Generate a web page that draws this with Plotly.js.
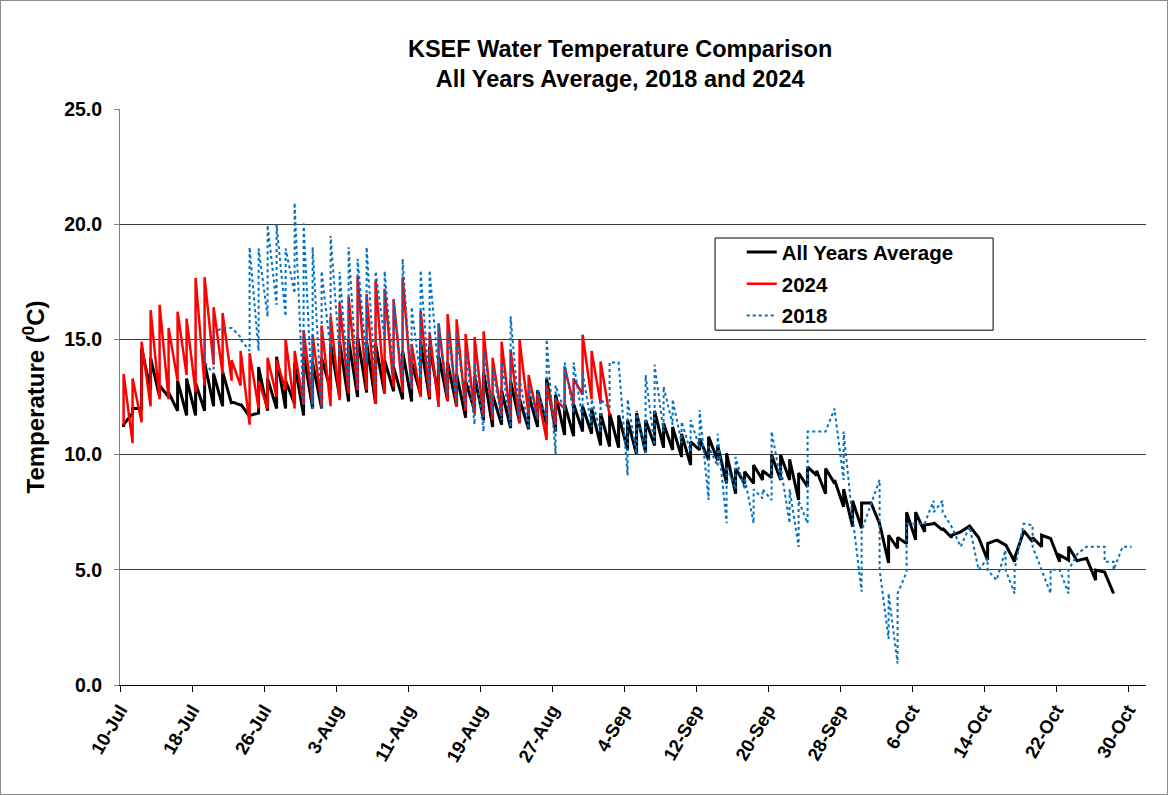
<!DOCTYPE html>
<html>
<head>
<meta charset="utf-8">
<script src="https://cdn.plot.ly/plotly-3.0.1.min.js"></script>
<style>
html,body{margin:0;padding:0;background:#fff;}
#chart{width:1166px;height:793px;border:1px solid #8c8c8c;}
</style>
</head>
<body>
<div id="chart"></div>
<script>
// ---- data (two readings per day; day 0 = 10-Jul) ----
const seriesStart = '2024-07-10';
const tickLabels = ['10-Jul','18-Jul','26-Jul','3-Aug','11-Aug','19-Aug','27-Aug','4-Sep','12-Sep','20-Sep','28-Sep','6-Oct','14-Oct','22-Oct','30-Oct'];

// All Years Average, days 0..110
const avgFirstDay = 0;
const avgFirst = [11.2,11.8,12.0,12.8,12.5,12.5,11.9,11.7,11.7,11.9,12.1,12.1,12.2,12.15,11.65,11.8,11.9,12.0,12.0,12.2,
  11.7,12.0,12.0,12.8,12.5,12.3,12.5,12.7,12.2,12.65,12.75,12.4,12.3,12.6,12.4,12.5,12.35,12.1,11.6,11.9,
  11.5,11.2,11.3,11.15,11.4,11.1,11.2,11.3,11.0,10.85,10.8,11.0,10.9,10.4,10.35,10.3,10.2,10.0,10.1,10.4,
  10.3,10.2,9.9,9.55,10.2,9.77,9.75,8.75,8.3,8.75,8.75,8.9,9.0,8.9,8.9,8.03,8.6,9.1,8.3,8.75,
  7.74,6.87,6.8,7.9,7.0,5.3,5.93,6.14,6.3,6.65,7.0,6.72,6.4,6.65,6.9,6.4,5.42,6.29,6.07,5.35,
  6.65,6.22,6.0,6.36,5.35,5.42,5.35,5.5,4.55,4.9,3.97];
const avgSecond = [11.3,12.0,14.6,14.2,13.0,12.7,13.2,13.3,13.1,14.0,13.5,13.6,12.3,12.2,11.7,13.8,13.3,14.25,13.2,13.96,
  14.4,14.0,14.2,14.8,14.9,15.0,15.1,14.9,14.8,14.1,13.8,14.5,14.0,14.9,14.7,14.3,14.0,13.5,13.2,13.4,
  13.6,12.6,12.8,13.2,12.4,12.6,12.8,13.3,12.6,12.2,12.2,12.1,12.0,11.8,11.8,11.7,11.5,11.8,11.5,11.9,
  11.35,11.2,10.9,10.56,10.7,10.78,10.4,10.06,9.4,9.26,9.55,9.3,9.98,9.98,9.8,9.2,9.47,9.3,9.4,8.9,
  8.5,8.0,7.9,7.95,7.0,6.5,6.4,7.5,7.5,6.94,7.05,6.8,6.5,6.65,6.9,6.4,6.14,6.3,6.1,5.5,
  6.7,6.4,6.5,6.36,5.64,6.0,5.4,5.5,4.99,4.9,3.97];

// 2024, days 0..54
const y2024FirstDay = 0;
const y2024First = [11.3,10.5,11.4,12.1,12.4,12.4,13.2,13.45,12.7,13.0,13.9,13.5,13.2,13.0,11.3,12.0,12.0,12.5,12.8,12.0,
  12.2,12.2,12.15,12.1,12.36,12.65,12.8,12.8,12.2,12.65,12.95,12.7,12.9,12.5,12.5,12.07,12.3,12.07,11.9,11.75,
  11.64,11.5,11.7,11.5,11.35,11.7,11.6,10.63,11.3,12.0,12.2,12.6,12.4,12.2,11.7];
const y2024Second = [13.5,13.3,14.9,16.27,16.5,15.5,16.2,15.9,17.66,17.7,16.4,16.15,14.1,14.5,14.4,13.2,14.2,14.1,15.0,14.5,
  15.4,15.2,15.6,16.0,16.6,16.85,17.75,16.97,17.55,17.2,16.75,17.7,14.8,16.24,15.3,15.7,16.1,15.87,15.23,15.1,
  15.35,14.2,14.9,14.57,14.97,13.45,12.66,13.0,12.37,13.8,13.3,15.2,14.5,14.04,11.7];

// 2018, days 9..112
const y2018FirstDay = 9;
const y2018First = [15.0,13.5,15.5,15.5,15.1,14.5,14.5,15.98,16.5,16.0,17.0,
  12.1,12.0,12.0,14.5,14.3,13.0,12.8,14.0,13.0,15.0,13.5,13.2,12.8,13.3,12.8,13.5,12.6,12.3,12.0,11.3,
  11.0,11.8,11.5,11.2,11.5,11.1,11.5,11.5,10.0,11.9,11.8,11.5,11.2,11.0,12.0,14.0,9.1,10.0,10.0,10.4,
  11.0,11.3,10.5,10.13,10.3,8.03,9.5,7.02,8.5,8.5,7.02,8.1,8.03,8.9,7.02,6.0,7.02,11.0,11.0,12.0,
  8.9,7.16,4.05,7.8,8.9,2.0,0.93,4.9,7.0,7.0,8.0,8.0,6.87,6.0,6.87,5.06,5.5,4.55,5.86,3.97,
  7.0,6.94,5.0,3.97,5.0,3.97,5.7,6.0,6.0,6.0,5.35,6.0,6.0];
const y2018Second = [14.0,15.3,15.5,15.5,15.0,19.0,18.95,19.96,19.96,18.95,20.93,
  20.03,19.0,17.96,19.5,17.93,19.0,18.5,19.0,17.96,17.96,16.7,18.5,16.4,18.0,18.0,15.7,15.4,15.3,14.5,14.0,
  14.5,13.8,14.0,16.0,13.3,13.0,12.8,15.0,13.0,14.0,14.0,13.6,12.4,12.4,14.0,14.0,12.4,11.9,13.45,13.9,
  12.95,12.4,11.43,11.5,11.94,10.35,10.9,9.5,9.9,9.0,8.5,8.5,11.0,9.5,8.5,8.0,11.0,11.0,11.0,11.94,
  11.0,7.3,6.7,7.8,5.0,3.97,3.97,7.0,7.0,7.0,7.5,7.5,6.87,6.0,6.87,4.99,4.99,4.55,5.0,5.0,
  7.0,6.0,5.0,5.0,5.0,5.0,5.7,6.0,6.0,5.35,5.0,6.0,6.0];

// ---- build traces ----
const DAY = 86400000;
const base = Date.parse(seriesStart + 'T00:00:00Z');
const readingOffset = 0.4; // time of day of readings (fraction)
function buildSeries(firstDay, first, second) {
  const x = [], y = [];
  for (let i = 0; i < first.length; i++) {
    const t = base + (firstDay + i + readingOffset) * DAY;
    x.push(t, t);
    y.push(first[i], second[i]);
  }
  return {x: x.map(v => new Date(v).toISOString().slice(0,19).replace('T',' ')), y};
}
const sAvg = buildSeries(avgFirstDay, avgFirst, avgSecond);
const s24 = buildSeries(y2024FirstDay, y2024First, y2024Second);
const s18 = buildSeries(y2018FirstDay, y2018First, y2018Second);

const FONT = 'Liberation Sans, Arial, Helvetica, sans-serif';
const traces = [
  {x: sAvg.x, y: sAvg.y, type: 'scatter', mode: 'lines', name: 'All Years Average', legendgroup: 'a',
   line: {color: '#000000', width: 3}},
  {x: s24.x, y: s24.y, type: 'scatter', mode: 'lines', name: '2024', legendgroup: 'b',
   line: {color: '#FF0000', width: 2.5}},
  {x: s18.x, y: s18.y, type: 'scatter', mode: 'lines', name: '2018', legendgroup: 'c',
   line: {color: '#0070C0', width: 2, dash: 'dot'}}
];

const tickVals = tickLabels.map((_, k) => new Date(base + k * 8 * DAY).toISOString().slice(0,10));
const xEnd = new Date(base + 114 * DAY).toISOString().slice(0,10);

const layout = {
  width: 1166, height: 793,
  margin: {l: 119, r: 21, t: 108, b: 109},
  paper_bgcolor: '#ffffff', plot_bgcolor: '#ffffff',
  font: {family: FONT, color: '#000000'},
  showlegend: true,
  title: {
    text: 'KSEF Water Temperature Comparison<br>All Years Average, 2018 and 2024',
    font: {family: FONT, size: 23.5, weight: 700, color: '#000'},
    x: 0.531, xanchor: 'center', xref: 'container',
    y: 0.93, yanchor: 'top', yref: 'container'
  },
  xaxis: {
    type: 'date',
    range: [seriesStart, xEnd],
    tickvals: tickVals, ticktext: tickLabels,
    tickangle: -60,
    tickfont: {family: FONT, size: 18.5, weight: 700},
    ticks: 'outside', ticklen: 6, tickcolor: '#000', tickwidth: 1,
    showline: true, linecolor: '#000', linewidth: 1,
    showgrid: false, zeroline: false, fixedrange: true
  },
  yaxis: {
    range: [0, 25], tickvals: [0,5,10,15,20,25], tickformat: '.1f',
    tickfont: {family: FONT, size: 19.5, weight: 700},
    ticks: 'outside', ticklen: 5, tickcolor: '#808080', tickwidth: 1,
    ticklabelstandoff: 8,
    showline: true, linecolor: '#808080', linewidth: 1,
    showgrid: true, gridcolor: '#3a3a3a', gridwidth: 1,
    zeroline: false, fixedrange: true,
    title: {text: 'Temperature (<sup>0</sup>C)', font: {family: FONT, size: 24, weight: 700}, standoff: 12}
  },
  legend: {
    x: 0.606, y: 0.786, xanchor: 'left', yanchor: 'top',
    bgcolor: 'rgba(0,0,0,0)', borderwidth: 0,
    font: {family: FONT, size: 20.5, weight: 700, color: '#000'},
    traceorder: 'grouped', tracegroupgap: 2
  },
  shapes: [
    {type: 'rect', xref: 'paper', yref: 'paper', x0: 0.580, x1: 0.851, y0: 0.616, y1: 0.776,
     line: {color: '#000', width: 1}, fillcolor: 'rgba(0,0,0,0)', layer: 'below'}
  ]
};

Plotly.newPlot('chart', traces, layout, {staticPlot: true, displayModeBar: false});
</script>
</body>
</html>
